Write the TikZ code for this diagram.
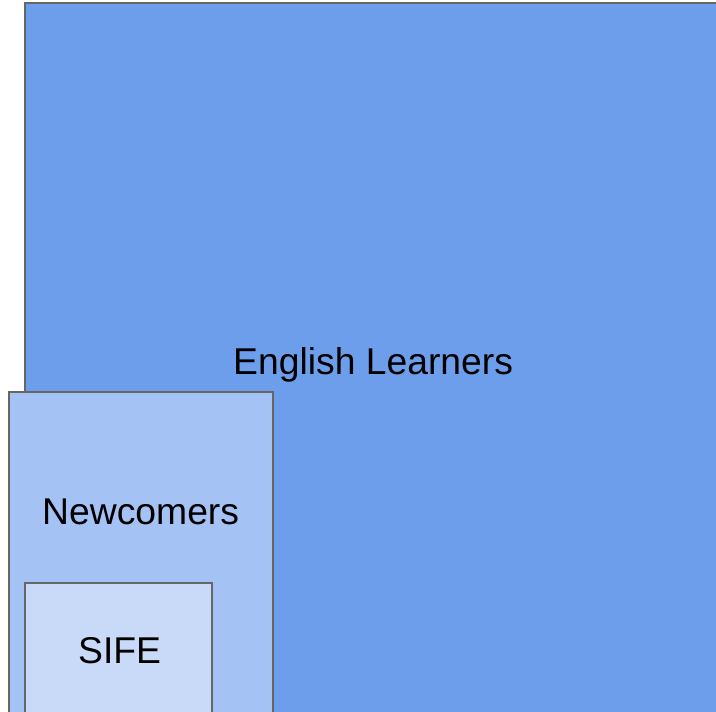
\documentclass[tikz,border=0pt]{standalone}
\usepackage{fontspec}
\setmainfont{Liberation Sans}
\definecolor{elblue}{HTML}{6D9EEB}
\definecolor{ncblue}{HTML}{A4C2F4}
\definecolor{sifeblue}{HTML}{C9DAF8}
\definecolor{edgegray}{HTML}{666666}
\tikzset{
  setbox/.style={draw=edgegray, line width=1.9pt},
  lbl/.style={inner sep=0pt, anchor=base west, font=\fontsize{37.3}{40}\selectfont, text=black}
}
\begin{document}
\begin{tikzpicture}[x=1pt,y=-1pt]
\useasboundingbox (0,0) rectangle (716,712);
\clip (0,0) rectangle (716,712);
\fill[white] (0,0) rectangle (716,712);
\path[setbox, fill=elblue] (25,3) rectangle (730,730);
\path[setbox, fill=ncblue] (9,392) rectangle (273,730);
\path[setbox, fill=sifeblue] (25,583) rectangle (212,730);
\node[lbl] (el) at (233,374) {English Learners};
\node[lbl] (nc) at (42,524) {Newcomers};
\node[lbl] (sife) at (78,663) {SIFE};
\end{tikzpicture}
\end{document}
